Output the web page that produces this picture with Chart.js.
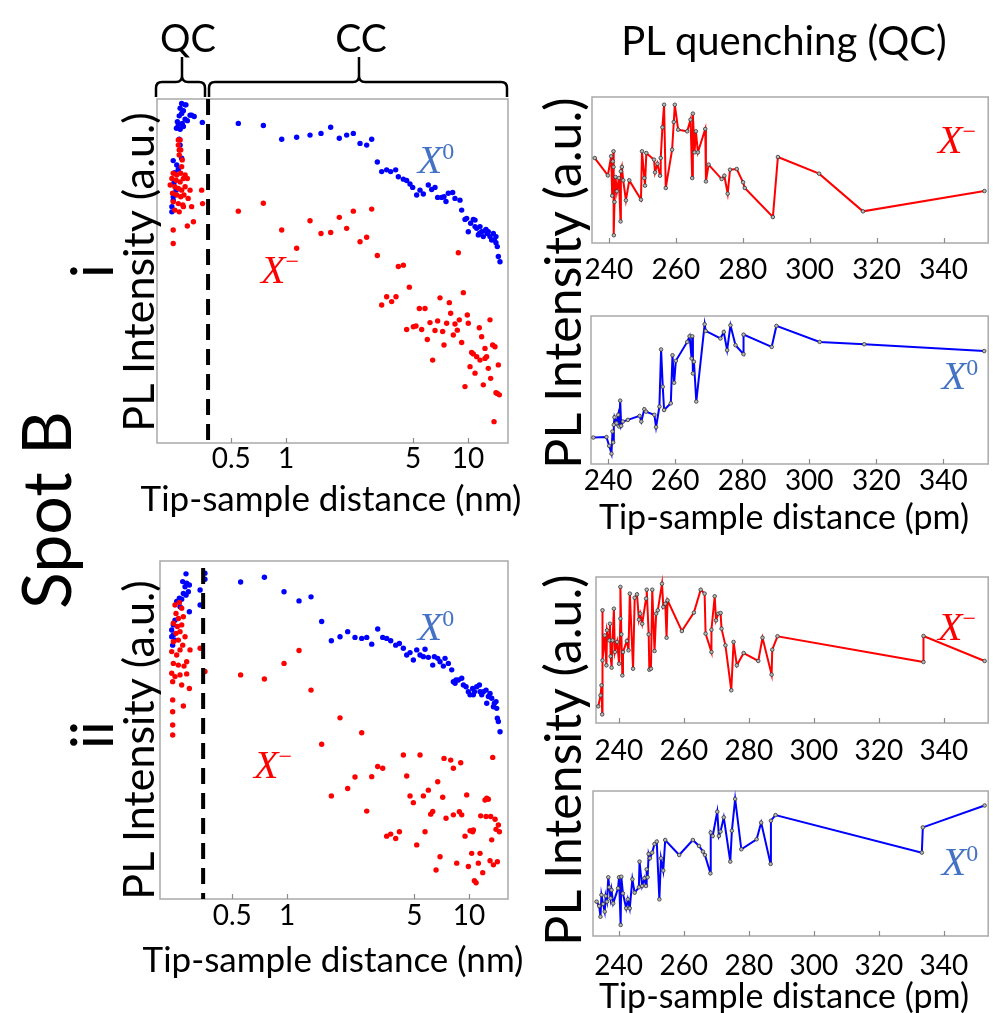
<!DOCTYPE html>
<html><head><meta charset="utf-8">
<script src="https://cdn.jsdelivr.net/npm/chart.js@4.4.1/dist/chart.umd.min.js"></script>
<style>
html,body{margin:0;padding:0;background:#fff;}
#page{position:relative;width:993px;height:1013px;overflow:hidden;font-family:Lato,sans-serif;color:#000;}
.t{position:absolute;white-space:nowrap;transform:translate(-50%,-50%);line-height:1;z-index:3;}
.r{transform:translate(-50%,-50%) rotate(-90deg);}
canvas{position:absolute;z-index:1;}
.x{font-family:'Liberation Serif',serif;font-style:italic;font-size:40px;}
.x sup{font-style:normal;font-size:0.6em;vertical-align:0.6em;line-height:0;}
svg{position:absolute;left:0;top:0;z-index:2;}
</style></head>
<body><div id="page">
<svg width="993" height="120"><g fill="none" stroke="#000" stroke-width="2.5">
<path d="M156,97 L156,88 Q156,82 162,82 L176,82 Q182,82 182,76 L182,57 M182,76 Q182,82 188,82 L199,82 Q205,82 205,88 L205,97"/>
<path d="M209,97 L209,88 Q209,82 215,82 L353,82 Q359,82 359,76 L359,57 M359,76 Q359,82 365,82 L501,82 Q507,82 507,88 L507,97"/>
</g></svg>
<div class="t" style="left:188px;top:37px;font-size:38px">QC</div>
<div class="t" style="left:361px;top:37px;font-size:39px">CC</div>
<div class="t" style="left:784px;top:40px;font-size:40px">PL quenching (QC)</div>
<div class="t r" style="left:45px;top:510px;font-size:68px">Spot B</div>
<div class="t r" style="left:91px;top:271px;font-size:58px">i</div>
<div class="t r" style="left:91px;top:735px;font-size:58px">ii</div>
<div class="t r" style="left:137px;top:272px;font-size:43px">PL Intensity (a.u.)</div>
<div class="t r" style="left:137px;top:740px;font-size:43px">PL Intensity (a.u.)</div>
<div class="t r" style="left:562px;top:283px;font-size:50px">PL Intensity (a.u.)</div>
<div class="t r" style="left:562px;top:760px;font-size:50px">PL Intensity (a.u.)</div>
<div class="t" style="left:331px;top:497px;font-size:35px">Tip-sample distance (nm)</div>
<div class="t" style="left:333px;top:958px;font-size:35px">Tip-sample distance (nm)</div>
<div class="t" style="left:784px;top:516px;font-size:34px">Tip-sample distance (pm)</div>
<div class="t" style="left:784px;top:995px;font-size:34px">Tip-sample distance (pm)</div>
<div class="t x" style="left:436px;top:160px;color:#4472c4">X<sup>0</sup></div>
<div class="t x" style="left:280px;top:270px;color:#ff0000">X<sup>−</sup></div>
<div class="t x" style="left:436px;top:627px;color:#4472c4">X<sup>0</sup></div>
<div class="t x" style="left:273px;top:765px;color:#ff0000">X<sup>−</sup></div>
<div class="t x" style="left:957px;top:140px;color:#ff0000">X<sup>−</sup></div>
<div class="t x" style="left:960px;top:376px;color:#4472c4">X<sup>0</sup></div>
<div class="t x" style="left:957px;top:627px;color:#ff0000">X<sup>−</sup></div>
<div class="t x" style="left:960px;top:862px;color:#4472c4">X<sup>0</sup></div>
</div>
<script>
// ---------- data: [tip-sample distance, PL intensity (a.u., 0-100)] ----------
const nmTicks = [0.5, 1, 5, 10];
const pmTicks = [240, 260, 280, 300, 320, 340];
const qcEdgeI = 0.373, qcEdgeII = 0.346;   // QC / CC boundary (nm)

const spotI_X0 = [[0.267,98.7],[0.282,98.3],[0.279,98.3],[0.262,97.3],[0.273,96.6],[0.267,95.8],[0.297,95.3],[0.259,95.1],[0.303,95.3],[0.313,94.9],[0.279,94.1],[0.253,93.4],[0.269,92.9],[0.287,93.7],[0.256,92.4],[0.273,92.0],[0.250,91.5],[0.262,91.2],[0.347,93.2],[0.259,88.3],[0.262,86.6],[0.267,82.8],[0.240,82.1],[0.251,80.8],[0.256,79.6],[0.245,78.6],[0.242,75.5],[0.249,73.5],[0.240,71.6],[0.240,70.6],[0.236,68.7],[0.236,67.2],
[0.547,92.9],[0.751,92.3],[0.947,88.3],[1.144,88.9],[1.355,89.5],[1.557,90.0],[1.760,91.8],[1.963,88.6],[2.154,89.5],[2.344,90.0],[2.551,87.1],[2.775,86.6],[2.957,88.3],[3.176,81.7],[3.355,78.9],[3.573,79.4],[3.759,78.9],[4.005,79.4],[4.143,77.4],[4.413,76.7],[4.603,76.3],[4.801,75.3],[4.966,74.3],[5.224,72.1],[5.449,73.5],[5.683,72.4],[6.053,75.0],[6.316,73.7],[6.588,74.3],[6.811,71.4],[7.166,71.4],[7.381,71.6],[7.570,70.2],[7.797,72.6],[8.237,72.8],[8.483,71.1],[9.036,70.6],[9.231,67.7],[9.627,65.0],[9.832,65.3],[10.04,61.4],[10.34,63.9],[10.70,65.0],[10.93,62.9],[10.93,64.8],[11.16,62.4],[11.40,60.5],[11.54,60.9],[11.64,62.9],[11.89,61.4],[12.14,60.0],[12.40,61.7],[12.56,62.1],[12.77,60.9],[12.93,61.4],[13.21,60.0],[13.49,59.0],[13.78,60.9],[13.95,59.0],[14.25,60.0],[14.25,58.2],[14.49,57.1],[14.68,54.2],[14.99,52.7]];

const spotI_Xm = [[0.262,88.1],[0.256,88.1],[0.256,86.6],[0.264,85.2],[0.259,85.2],[0.259,83.7],[0.269,82.3],[0.267,80.3],[0.240,78.4],[0.251,77.9],[0.264,78.4],[0.279,77.9],[0.236,76.9],[0.249,76.4],[0.262,75.9],[0.273,76.9],[0.287,76.9],[0.231,75.0],[0.245,74.5],[0.256,74.0],[0.267,73.5],[0.279,74.5],[0.297,73.5],[0.238,72.6],[0.251,72.1],[0.264,71.6],[0.275,72.1],[0.290,71.1],[0.240,70.1],[0.256,69.6],[0.271,69.2],[0.245,67.7],[0.259,67.2],[0.303,68.7],[0.273,68.7],[0.344,73.5],[0.348,69.6],[0.310,64.3],[0.287,63.1],[0.240,61.9],[0.240,58.0],
[0.547,67.4],[0.751,69.7],[0.947,61.9],[1.144,56.6],[1.355,64.6],[1.557,60.9],[1.760,61.2],[1.963,65.6],[2.154,62.4],[2.344,67.4],[2.551,58.5],[2.775,59.8],[2.957,68.0],[3.176,54.5],[4.143,51.3],[4.413,51.7],[4.762,45.3],[3.355,40.1],[3.573,42.5],[3.807,41.1],[4.022,42.5],[4.603,33.0],[5.008,33.8],[5.179,34.0],[5.565,33.0],[5.404,39.1],[5.804,39.1],[5.977,30.1],[6.183,35.0],[6.396,24.1],[6.588,32.7],[6.811,35.5],[7.018,42.2],[7.258,32.4],[7.381,28.5],[7.634,34.8],[7.896,40.8],[8.031,37.7],[8.306,31.4],[8.483,34.6],[8.738,32.8],[8.962,35.8],[8.850,55.3],[9.231,29.2],[9.428,43.7],[9.627,16.4],[9.915,37.2],[10.04,34.8],[10.26,22.2],[10.47,26.3],[10.70,25.9],[10.93,20.3],[11.16,25.1],[11.54,33.5],[11.64,24.1],[11.89,30.9],[12.14,16.9],[12.40,27.5],[12.40,24.6],[12.66,25.1],[12.93,21.7],[13.21,35.8],[13.32,18.8],[13.66,28.5],[13.90,6.2],[14.07,28.0],[14.25,14.6],[14.49,14.4],[14.68,22.7],[14.87,14.0]];

const spotII_X0 = [[0.2786,96.2],[0.2672,93.9],[0.2810,93.4],[0.2752,92.4],[0.2907,92.9],[0.2870,90.9],[0.2694,90.4],[0.2561,89.0],[0.2786,89.9],[0.2638,88.7],[0.2476,88.0],[0.2583,86.5],[0.2907,85.0],[0.2424,82.5],[0.2374,81.1],[0.2325,79.6],[0.2374,78.1],[0.2325,77.6],[0.2424,76.6],[0.2354,75.1],[0.333,91.4],[0.333,87.0],[0.354,96.4],[0.354,94.6],
[0.556,93.8],[0.751,95.2],[0.963,90.9],[1.164,88.2],[1.355,89.4],[1.550,82.1],[1.752,76.4],[1.955,77.6],[2.154,79.1],[2.363,77.4],[2.572,77.1],[2.741,77.4],[2.919,75.4],[3.149,79.9],[3.355,77.4],[3.528,77.1],[3.712,76.4],[3.955,75.1],[4.143,75.6],[4.357,74.2],[4.545,72.2],[4.741,72.9],[4.945,70.7],[5.159,73.7],[5.380,72.2],[5.612,71.7],[5.731,73.9],[5.977,71.5],[6.316,69.2],[6.450,71.7],[6.727,71.2],[6.929,70.2],[7.228,68.9],[7.381,71.2],[7.697,69.7],[8.031,67.8],[8.203,64.3],[8.379,63.8],[8.483,64.8],[8.738,64.8],[9.114,65.3],[9.309,63.3],[9.627,62.8],[9.915,61.3],[10.13,60.4],[10.47,62.3],[10.56,60.4],[10.70,61.3],[11.02,62.8],[11.40,63.3],[11.49,61.3],[11.74,60.4],[11.99,61.3],[12.40,61.8],[12.51,57.9],[12.77,59.9],[13.04,60.8],[13.32,59.4],[13.61,56.9],[13.78,57.9],[14.07,58.4],[14.19,56.4],[14.31,53.5],[14.49,52.5],[14.80,49.5]];

const spotII_Xm = [[0.2561,87.7],[0.2424,87.0],[0.2638,86.0],[0.2455,84.5],[0.2529,83.0],[0.2694,83.5],[0.2374,81.6],[0.2497,80.6],[0.2638,81.1],[0.2455,78.6],[0.2583,79.1],[0.2752,77.6],[0.2374,76.1],[0.2529,76.6],[0.2672,75.1],[0.2931,73.7],[0.2325,73.2],[0.2476,72.2],[0.2583,73.7],[0.2810,70.2],[0.2374,69.7],[0.2529,69.2],[0.2717,68.9],[0.2325,66.8],[0.2424,65.8],[0.2583,66.3],[0.2810,66.6],[0.2354,64.3],[0.2638,63.3],[0.2907,62.3],[0.2354,58.9],[0.2694,57.1],[0.2354,55.4],[0.2354,51.5],[0.2354,48.5],[0.333,74.2],[0.354,67.3],
[0.556,66.3],[0.751,65.1],[0.963,69.7],[1.164,73.5],[1.355,61.8],[1.550,45.8],[1.752,30.5],[1.955,53.6],[2.154,32.7],[2.363,36.1],[2.572,49.2],[2.741,26.0],[2.919,36.2],[3.149,39.2],[3.355,38.7],[3.528,18.6],[3.712,19.2],[3.955,17.9],[4.143,19.9],[4.357,42.6],[4.545,36.4],[4.741,30.5],[4.945,28.5],[5.159,16.0],[5.380,42.6],[5.612,30.5],[5.731,19.9],[5.977,32.2],[6.157,25.1],[6.316,25.9],[6.588,8.6],[6.727,34.7],[6.929,12.5],[7.166,30.1],[7.289,41.6],[7.476,23.9],[7.930,41.1],[8.203,38.7],[8.203,24.9],[8.555,10.6],[8.850,25.8],[9.000,40.3],[9.114,24.9],[9.506,18.6],[9.709,30.8],[9.915,9.6],[10.13,20.2],[10.34,13.5],[10.47,19.9],[10.56,20.4],[10.70,5.4],[10.93,4.8],[11.25,10.6],[11.49,13.5],[11.59,24.6],[11.89,7.8],[12.24,29.3],[12.40,24.4],[12.51,29.8],[12.77,29.5],[13.04,11.3],[13.15,24.4],[13.32,17.5],[13.49,41.9],[13.61,10.1],[13.90,23.6],[14.07,20.6],[14.31,11.0],[14.49,21.9],[14.68,19.9]];

// PL quenching (QC) traces, distance in pm
const qcI_Xm = [[235.8,58.2],[239.7,46.3],[240.7,59.4],[241.0,32.4],[241.2,55.9],[241.4,62.8],[241.4,52.1],[241.5,5.3],[241.7,28.1],[242.0,45.2],[242.4,35.4],[243.0,44.5],[243.5,14.8],[243.6,49.1],[243.9,52.1],[244.3,42.9],[245.1,29.2],[246.1,42.9],[249.6,29.7],[249.9,62.8],[250.6,44.5],[250.8,39.3],[251.2,61.6],[253.5,57.1],[253.8,48.4],[254.5,54.3],[255.3,46.1],[255.5,58.2],[256.0,79.2],[256.5,94.7],[257.0,37.7],[258.9,63.9],[259.4,82.9],[259.7,94.7],[260.7,77.6],[263.4,76.5],[264.4,84.5],[264.9,44.5],[265.1,88.6],[265.6,62.1],[266.0,76.5],[266.6,62.1],[268.8,78.1],[269.0,42.2],[269.8,53.7],[273.7,43.8],[274.5,46.1],[275.5,33.8],[276.2,50.2],[278.2,50.7],[280.1,41.6],[280.6,37.7],[289.0,17.8],[290.5,58.9],[302.8,47.5],[315.9,21.7],[352.2,35.6]];

const qcI_X0 = [[235.6,17.9],[239.5,18.2],[240.3,12.3],[241.0,7.0],[241.3,22.0],[241.5,14.6],[241.7,26.5],[241.9,31.6],[242.5,27.6],[243.0,33.2],[243.3,25.3],[243.6,42.8],[243.9,25.8],[244.4,28.7],[245.9,29.8],[249.4,32.5],[249.9,28.7],[250.8,37.0],[251.3,35.4],[253.8,33.2],[254.3,24.9],[255.3,38.8],[255.8,77.4],[256.3,52.2],[256.7,36.5],[258.7,41.0],[259.2,73.5],[259.7,54.9],[260.2,69.7],[263.6,82.5],[264.3,86.3],[264.9,71.3],[265.1,86.3],[265.3,61.2],[265.6,69.1],[266.3,42.2],[268.8,94.4],[269.1,89.9],[273.5,84.8],[274.5,89.2],[275.5,76.9],[276.5,93.7],[278.0,80.3],[280.4,74.2],[280.4,87.4],[288.8,79.1],[290.2,93.3],[303.1,82.5],[316.4,80.9],[352.2,76.3]];

const qcII_Xm = [[233.7,11.4],[234.4,18.9],[234.7,25.8],[234.9,5.9],[235.0,77.2],[235.0,42.9],[235.7,60.0],[236.2,39.5],[236.4,63.5],[237.1,56.6],[237.3,68.0],[237.5,45.7],[237.8,37.9],[238.1,56.6],[238.5,78.3],[238.8,48.6],[239.5,55.5],[240.1,40.6],[240.5,71.5],[240.5,93.2],[240.8,60.7],[241.1,32.6],[241.3,48.6],[242.5,56.2],[243.0,49.8],[243.4,88.6],[244.4,37.2],[244.9,85.8],[245.6,88.1],[246.2,70.8],[246.6,74.9],[247.2,68.0],[248.4,85.2],[248.6,91.3],[249.2,60.7],[249.4,36.5],[249.9,37.2],[250.3,91.3],[251.0,49.3],[251.5,74.9],[252.0,77.2],[253.3,95.4],[253.7,79.5],[254.3,81.7],[254.7,58.4],[255.0,84.0],[259.4,63.0],[263.1,75.6],[265.2,91.3],[266.4,88.6],[266.7,61.2],[268.5,48.6],[268.5,63.9],[269.5,86.8],[269.9,70.3],[270.6,74.9],[271.3,75.3],[271.6,64.6],[272.8,53.2],[274.6,22.4],[275.3,55.5],[276.3,39.5],[278.4,47.9],[282.9,42.5],[284.2,58.4],[287.0,33.1],[287.2,50.2],[288.8,59.4],[333.7,41.8],[333.7,59.6],[352.5,42.5]];

const qcII_X0 = [[233.2,23.7],[234.0,20.7],[234.4,13.3],[234.7,28.3],[235.2,22.1],[235.7,16.8],[236.0,27.6],[236.4,23.7],[236.8,40.5],[237.1,33.6],[237.5,26.0],[237.8,31.7],[238.3,22.5],[239.8,32.9],[240.1,40.5],[240.6,7.6],[240.8,40.9],[241.3,29.4],[242.3,19.1],[242.8,25.3],[243.4,19.1],[244.2,39.1],[244.9,29.9],[246.2,33.6],[246.4,51.3],[247.2,34.5],[247.9,39.8],[248.4,34.5],[248.6,46.0],[248.9,40.5],[249.2,56.6],[249.6,53.6],[250.3,57.5],[251.0,63.4],[251.7,65.1],[252.5,25.3],[253.0,53.6],[253.7,45.1],[254.3,66.2],[258.6,55.9],[262.8,66.2],[264.7,62.1],[265.9,58.2],[266.5,55.9],[268.2,43.2],[268.3,71.3],[268.9,69.0],[270.3,85.7],[270.8,69.0],[271.3,72.0],[272.3,81.8],[274.3,51.3],[274.8,72.6],[275.8,94.5],[277.7,59.8],[282.4,66.7],[283.8,78.2],[286.7,49.7],[286.8,79.5],[288.2,83.4],[333.2,57.5],[333.5,74.9],[352.5,90.0]];

// ---------- drawing ----------
const page = document.getElementById('page');
const BLUE = '#0000ff', RED = '#ff0000';

const frameTicks = {
  id: 'frameTicks',
  beforeDatasetsDraw(chart) {
    const {ctx, chartArea: a} = chart; const xs = chart.scales.x;
    ctx.save();
    ctx.strokeStyle = '#a9a9a9'; ctx.lineWidth = 1.5;
    ctx.strokeRect(a.left, a.top, a.right - a.left, a.bottom - a.top);
    ctx.strokeStyle = '#8a8a8a'; ctx.lineWidth = 1.2;
    xs.ticks.forEach(t => {
      const p = Math.round(xs.getPixelForValue(t.value)) + 0.5;
      ctx.beginPath(); ctx.moveTo(p, a.bottom); ctx.lineTo(p, a.bottom - 5); ctx.stroke();
    });
    ctx.restore();
  }
};

const pts = arr => arr.map(([x, y]) => ({x, y}));

function makeChart(f, xScale, datasets) {
  const padT = 8;
  const W = f.padL + f.w + f.padR, H = padT + f.h + f.axisH;
  const cv = document.createElement('canvas');
  cv.width = W; cv.height = H;
  Object.assign(cv.style, {left: (f.x - f.padL) + 'px', top: (f.y - padT) + 'px', width: W + 'px', height: H + 'px'});
  page.appendChild(cv);
  const xs = Object.assign({
    grid: {display: false, drawTicks: false},
    border: {display: false},
    afterFit: s => { s.height = f.axisH; }
  }, xScale);
  xs.ticks = Object.assign({font: {family: 'Lato', size: 28, lineHeight: 1}, color: '#000', maxRotation: 0, minRotation: 0, autoSkip: false, padding: f.tickPad}, xScale.ticks || {});
  return new Chart(cv, {
    type: 'scatter',
    data: {datasets},
    options: {
      responsive: false, animation: false, events: [],
      layout: {padding: {left: f.padL, right: f.padR, top: padT, bottom: 0}},
      plugins: {legend: {display: false}, tooltip: {enabled: false}},
      scales: {x: xs, y: {display: false, min: 0, max: 100}}
    },
    plugins: [frameTicks]
  });
}

function scatterSet(arr, color, order) {
  return {data: pts(arr), backgroundColor: color, borderColor: color, borderWidth: 0, pointRadius: 2.7, order, clip: false};
}
function edgeSet(x, offset) {
  return {type: 'line', data: [{x, y: 100}, {x, y: 0}], borderColor: '#000', borderWidth: 4, borderDash: [16, 9], borderDashOffset: offset, pointRadius: 0, order: 0, clip: false};
}
function traceSet(arr, color) {
  return {type: 'line', data: pts(arr), borderColor: color, borderWidth: 2, tension: 0,
    pointRadius: 1.8, pointBackgroundColor: '#b8b8b8', pointBorderColor: '#333', pointBorderWidth: 0.8, clip: false};
}
function logAxis(min, max) {
  return {type: 'logarithmic', min, max,
    afterBuildTicks: s => { s.ticks = nmTicks.map(v => ({value: v})); },
    ticks: {callback: v => String(v)}};
}
function pmAxis(min, max) {
  return {type: 'linear', min, max,
    afterBuildTicks: s => { s.ticks = pmTicks.map(v => ({value: v})); },
    ticks: {callback: v => String(v)}};
}

// Panel i (scatter)
makeChart({x: 157, y: 99, w: 351, h: 344, padL: 12, padR: 12, axisH: 40, tickPad: 2},
  logAxis(0.1955, 16.59),
  [edgeSet(qcEdgeI, 0), scatterSet(spotI_Xm, RED, 1), scatterSet(spotI_X0, BLUE, 2)]);
// Panel ii (scatter)
makeChart({x: 160, y: 561, w: 348, h: 338, padL: 12, padR: 12, axisH: 40, tickPad: 3},
  logAxis(0.2005, 16.37),
  [edgeSet(qcEdgeII, 18), scatterSet(spotII_Xm, RED, 1), scatterSet(spotII_X0, BLUE, 2)]);
// QC traces
makeChart({x: 592, y: 97, w: 400, h: 146, padL: 30, padR: 1, axisH: 50, tickPad: 13},
  pmAxis(234.97, 353.31), [traceSet(qcI_Xm, RED)]);
makeChart({x: 591, y: 316, w: 401, h: 148, padL: 30, padR: 1, axisH: 50, tickPad: 3},
  pmAxis(234.89, 353.39), [traceSet(qcI_X0, BLUE)]);
makeChart({x: 596, y: 577, w: 396, h: 146, padL: 30, padR: 1, axisH: 50, tickPad: 14},
  pmAxis(233.0, 353.6), [traceSet(qcII_Xm, RED)]);
makeChart({x: 593, y: 791, w: 399, h: 145, padL: 30, padR: 1, axisH: 50, tickPad: 16},
  pmAxis(232.1, 353.6), [traceSet(qcII_X0, BLUE)]);
</script>
</body></html>
